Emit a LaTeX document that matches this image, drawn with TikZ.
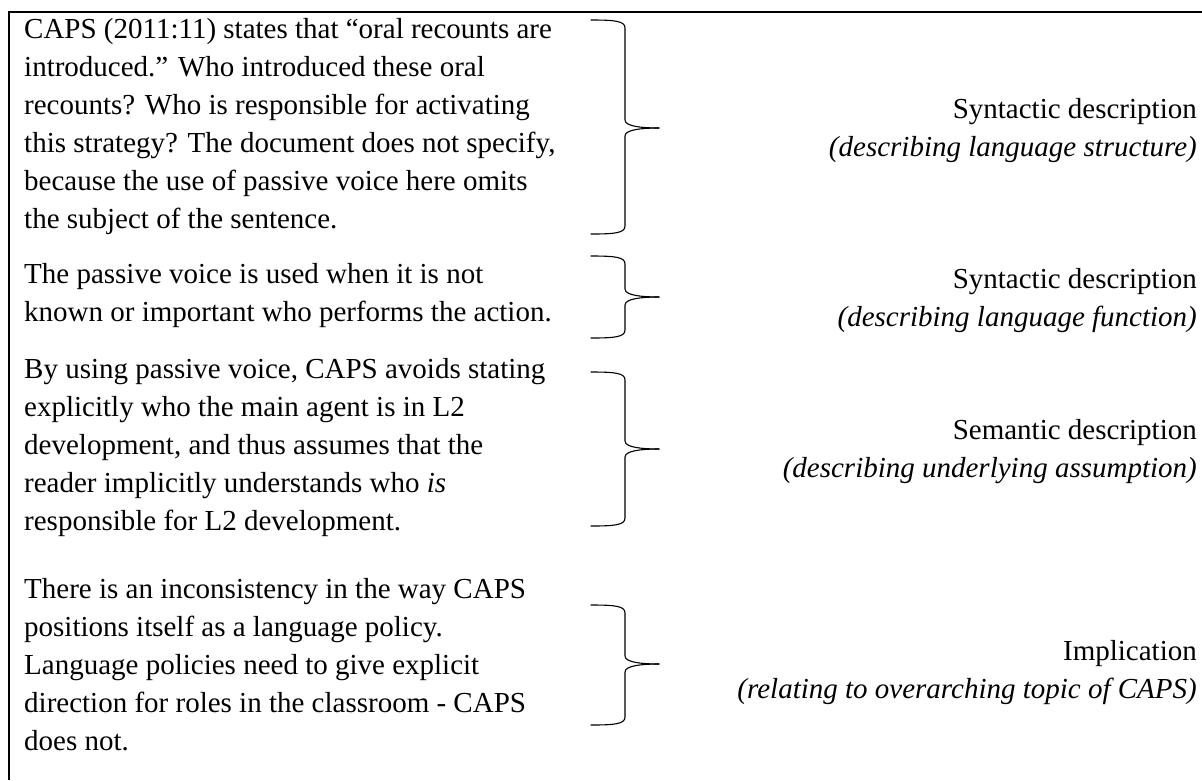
\documentclass[tikz,border=0pt]{standalone}
\usepackage{fontspec}
\setmainfont{Liberation Serif}
\usepackage{tikz}
\usetikzlibrary{positioning}
\tikzstyle{para} = [anchor=west, inner sep=0pt, align=left, font=\fontsize{29}{38}\selectfont]
\tikzstyle{desc} = [anchor=east, inner sep=0pt, align=right, font=\fontsize{29}{38}\selectfont]
\tikzstyle{curly} = [line width=1.1pt, line cap=round]
\tikzstyle{frame} = [line width=1.6pt]
% top, tip and bottom of one brace
\newcommand{\sidebrace}[3]{%
  \draw[curly] (591,#1) .. controls (615,#1) and (625,#1+1) .. (625,#1+8) -- (625,#2-8)
    .. controls (625,#2-2) and (640,#2) .. (659,#2);
  \draw[curly] (659,#2) .. controls (640,#2) and (625,#2+2) .. (625,#2+8) -- (625,#3-8)
    .. controls (625,#3-1) and (615,#3) .. (591,#3);
}

\begin{document}
\begin{tikzpicture}[x=1pt, y=-1pt]
    \useasboundingbox (0,0) rectangle (1202,780);
    \draw[frame] (1202,12) -- (9,12) -- (9,780);
    % left column
    \node (caps) [para] at (24,127) {CAPS (2011:11) states that “oral recounts are\\ introduced.” Who introduced these oral\\ recounts? Who is responsible for activating\\ this strategy? The document does not specify,\\ because the use of passive voice here omits\\ the subject of the sentence.};
    \node (passive) [para] at (24,296) {The passive voice is used when it is not\\ known or important who performs the action.};
    \node (agent) [para] at (24,448) {By using passive voice, CAPS avoids stating\\ explicitly who the main agent is in L2\\ development, and thus assumes that the\\ reader implicitly understands who \textit{is}\\ responsible for L2 development.};
    \node (policy) [para] at (24,665) {There is an inconsistency in the way CAPS\\ positions itself as a language policy.\\ Language policies need to give explicit\\ direction for roles in the classroom - CAPS\\ does not.};
    % braces
    \sidebrace{20}{128}{234}
    \sidebrace{256}{297}{338}
    \sidebrace{372}{449}{526}
    \sidebrace{605}{664}{725}
    % right column
    \node (syn1) [desc] at (1197,131) {Syntactic description\\ \textit{(describing language structure)}};
    \node (syn2) [desc] at (1197,301) {Syntactic description\\ \textit{(describing language function)}};
    \node (sem) [desc] at (1197,452) {Semantic description\\ \textit{(describing underlying assumption)}};
    \node (impl) [desc] at (1197,673) {Implication\\ \textit{(relating to overarching topic of CAPS)}};
\end{tikzpicture}
\end{document}
